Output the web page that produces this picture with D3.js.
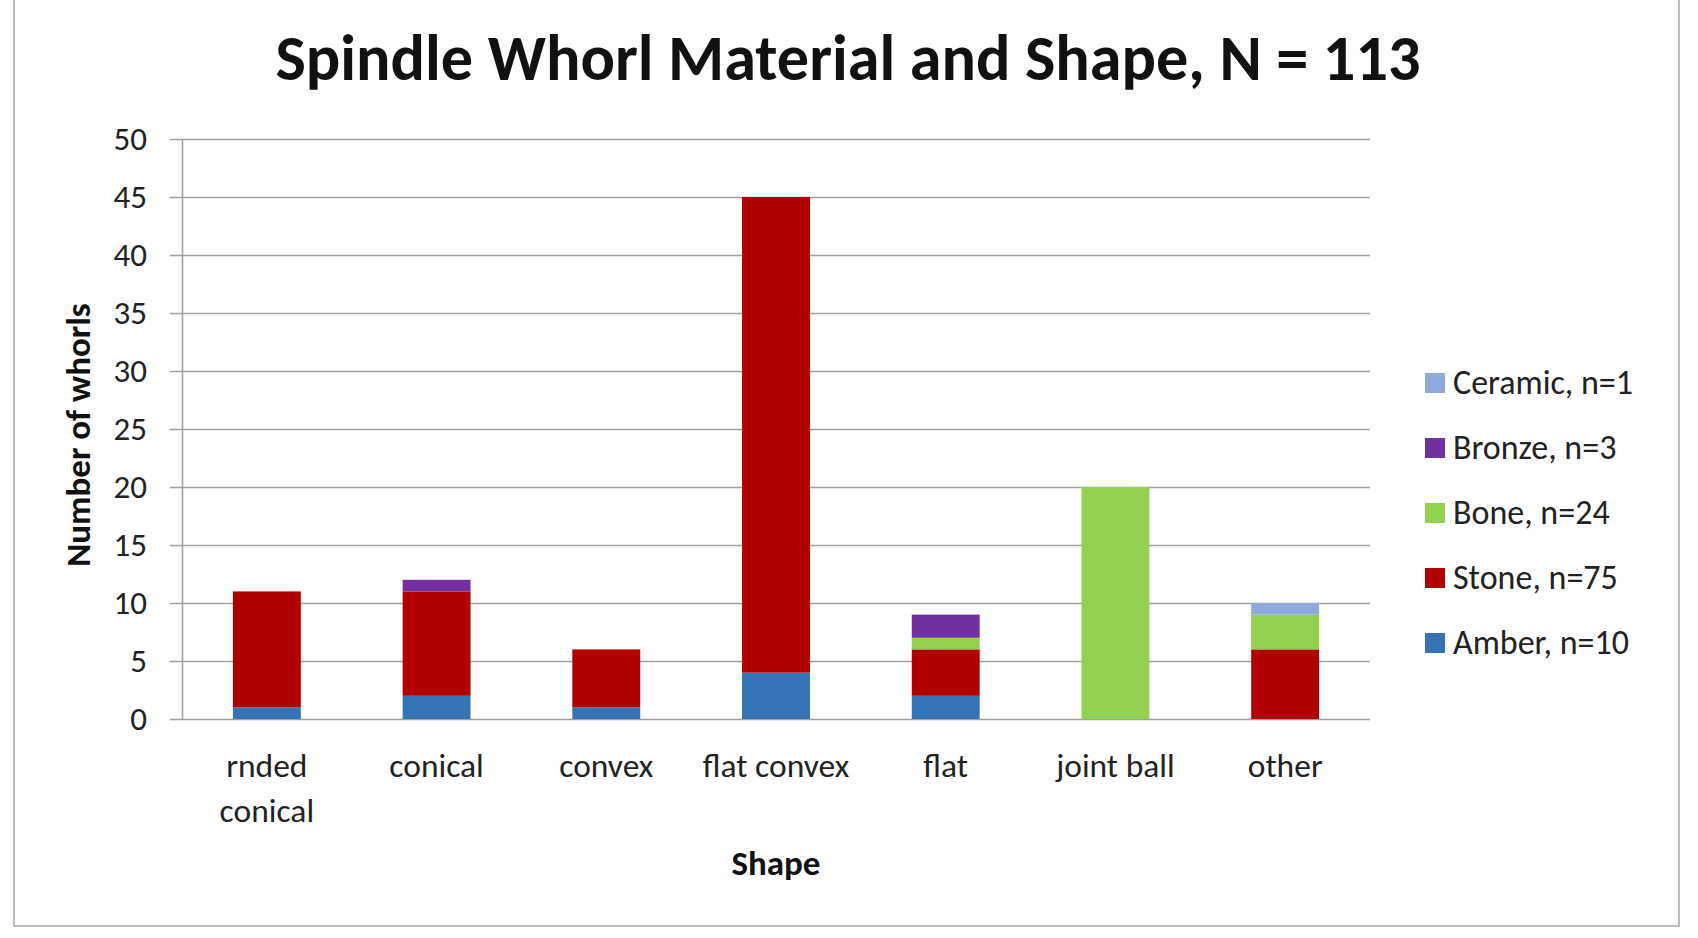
<!DOCTYPE html>
<html>
<head>
<meta charset="utf-8">
<script src="https://cdn.jsdelivr.net/npm/d3@7"></script>
<style>
  body { margin: 0; background: #fff; }
  svg { display: block; font-family: Carlito, Calibri, "Open Sans", sans-serif; }
</style>
</head>
<body>
<div id="chart-area"></div>
<script>
// data
const shapes = ["rnded conical", "conical", "convex", "flat convex", "flat", "joint ball", "other"]
const materials = ["Amber", "Stone", "Bone", "Bronze", "Ceramic"]
const amber   = [1, 2, 1, 4, 2, 0, 0]
const stone   = [10, 9, 5, 41, 4, 0, 6]
const bone    = [0, 0, 0, 0, 1, 20, 3]
const bronze  = [0, 1, 0, 0, 2, 0, 0]
const ceramic = [0, 0, 0, 0, 0, 0, 1]
const legendLabels = ["Amber, n=10", "Stone, n=75", "Bone, n=24", "Bronze, n=3", "Ceramic, n=1"]
const yTicks = [0, 5, 10, 15, 20, 25, 30, 35, 40, 45, 50]

const colors = {
  Amber: "#3474b6",
  Stone: "#b00000",
  Bone: "#92d050",
  Bronze: "#7030a0",
  Ceramic: "#8eaadb"
}

const WIDTH = 1698, HEIGHT = 938
const PLOT = { LEFT: 182, RIGHT: 1370, TOP: 139, BOTTOM: 719 }

const svg = d3.select("#chart-area").append("svg")
  .attr("width", WIDTH)
  .attr("height", HEIGHT)

// chart frame (top edge is cut off in the original)
svg.append("rect")
  .attr("x", 14)
  .attr("y", -10)
  .attr("width", 1665)
  .attr("height", 936)
  .attr("fill", "none")
  .attr("stroke", "#bdbdbd")
  .attr("stroke-width", 2)

// table for the stack
const table = shapes.map((s, i) => ({
  shape: s,
  Amber: amber[i],
  Stone: stone[i],
  Bone: bone[i],
  Bronze: bronze[i],
  Ceramic: ceramic[i]
}))

const x = d3.scaleBand()
  .domain(shapes)
  .range([PLOT.LEFT, PLOT.RIGHT])
  .paddingInner(0.6)
  .paddingOuter(0.3)

const y = d3.scaleLinear()
  .domain([0, 50])
  .range([PLOT.BOTTOM, PLOT.TOP])

// gridlines, they stick out 12px left of the axis like tick marks
const gridG = svg.append("g")
  .attr("class", "grid")
  .attr("transform", `translate(${PLOT.LEFT - 12}, 0)`)
  .call(d3.axisRight(y).tickValues(yTicks).tickSize(PLOT.RIGHT - PLOT.LEFT + 12).tickFormat(""))
gridG.select(".domain").remove()
gridG.selectAll(".tick line")
  .attr("stroke", "#9f9f9f")
  .attr("stroke-width", 1.6)

// y axis line and labels
const yAxis = svg.append("g")
  .attr("transform", `translate(${PLOT.LEFT}, 0)`)
  .call(d3.axisLeft(y).tickValues(yTicks).tickSize(0).tickPadding(35))
yAxis.select(".domain")
  .attr("stroke", "#9f9f9f")
  .attr("stroke-width", 1.6)
yAxis.selectAll(".tick text")
  .attr("font-family", "Carlito, Calibri, 'Open Sans', sans-serif")
  .attr("font-size", 33)
  .attr("fill", "#222")

// stacked bars
const series = d3.stack().keys(materials)(table)

svg.append("g")
  .selectAll("g")
  .data(series)
  .join("g")
    .attr("fill", d => colors[d.key])
  .selectAll("rect")
  .data(d => d)
  .join("rect")
    .attr("x", d => x(d.data.shape))
    .attr("width", x.bandwidth())
    .attr("y", d => y(d[1]))
    .attr("height", d => y(d[0]) - y(d[1]))

// category labels, wrapped to the band
const catG = svg.append("g")
  .attr("transform", `translate(0, ${PLOT.BOTTOM})`)
  .call(d3.axisBottom(x).tickSize(0).tickPadding(0))
catG.select(".domain").remove()
catG.selectAll(".tick text")
  .attr("font-family", "Carlito, Calibri, 'Open Sans', sans-serif")
  .attr("font-size", 33.5)
  .attr("fill", "#222")
  .attr("dy", null)
  .attr("y", 58)
  .each(function(d) {
    const el = d3.select(this)
    el.text(d)
    if (this.getComputedTextLength() > x.step() - 10) {
      el.text(null)
      d.split(" ").forEach((w, i) => {
        el.append("tspan")
          .attr("x", 0)
          .attr("dy", i === 0 ? 0 : 45)
          .text(w)
      })
    }
  })

// axis titles
svg.append("text")
  .attr("transform", `translate(90, 435) rotate(-90)`)
  .attr("text-anchor", "middle")
  .attr("font-size", 35)
  .attr("font-weight", "bold")
  .attr("fill", "#111")
  .text("Number of whorls")

svg.append("text")
  .attr("x", (PLOT.LEFT + PLOT.RIGHT) / 2)
  .attr("y", 875)
  .attr("text-anchor", "middle")
  .attr("font-size", 35)
  .attr("font-weight", "bold")
  .attr("fill", "#111")
  .text("Shape")

// title
svg.append("text")
  .attr("x", 848)
  .attr("y", 80)
  .attr("text-anchor", "middle")
  .attr("font-size", 64)
  .attr("font-weight", "bold")
  .attr("fill", "#111")
  .attr("textLength", 1145)
  .attr("lengthAdjust", "spacingAndGlyphs")
  .text("Spindle Whorl Material and Shape, N = 113")

// legend, top entry is the last series
const legend = svg.append("g")
  .attr("class", "legend")
  .attr("transform", "translate(1425, 383)")

const legendItems = legend.selectAll("g")
  .data(materials.slice().reverse())
  .join("g")
    .attr("transform", (d, i) => `translate(0, ${i * 65})`)

legendItems.append("rect")
  .attr("x", 0)
  .attr("y", -10)
  .attr("width", 20)
  .attr("height", 20)
  .attr("fill", d => colors[d])

legendItems.append("text")
  .attr("x", 28)
  .attr("y", 11)
  .attr("font-size", 34)
  .attr("fill", "#222")
  .text(d => legendLabels[materials.indexOf(d)])
</script>
</body>
</html>
